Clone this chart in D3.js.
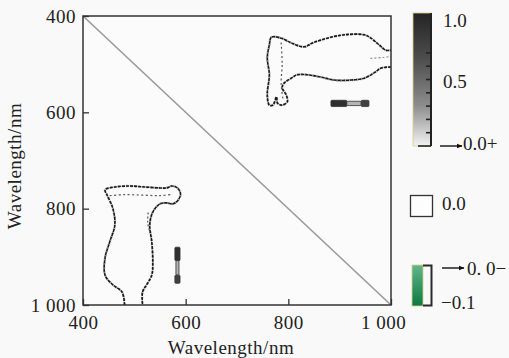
<!DOCTYPE html>
<html><head><meta charset="utf-8">
<script src="https://cdn.jsdelivr.net/npm/d3@7"></script>
<style>html,body{margin:0;padding:0;background:#f9f9f9;}svg{display:block;}</style>
</head><body>
<svg id="chart" width="509" height="358"></svg>
<script>
// ---- data (wavelength, nm) ----
const axisTicks = [400, 600, 800, 1000];
const axisTickLabels = ["400", "600", "800", "1 000"];
const diagonal = [[400, 400], [1000, 1000]];
// lower-left contour (x = wavelength 1, y = wavelength 2)
const contourLowerLeft = [[481,1000],[476,973],[458,958],[443,938],[443,902],[452,869],[462,834],[458,799],[447,772],[443,761],[462,755],[491,753],[520,755],[550,757],[563,757],[573,753],[584,757],[590,770],[584,784],[575,790],[563,788],[550,790],[536,807],[530,834],[534,869],[536,911],[534,938],[524,958],[516,973],[516,1000]];
const innerLowerLeft = [[452,773],[480,771],[520,772],[550,773],[575,770]];
const innerLowerLeft2 = [[527,808],[526,828],[530,848]];
// upper-right contour
const contourUpperRight = [[1000,506],[981,508],[967,518],[948,529],[922,533],[889,533],[864,527],[837,522],[817,522],[806,529],[792,539],[788,549],[796,564],[798,578],[788,585],[779,581],[777,568],[770,585],[763,585],[759,564],[763,522],[759,487],[763,460],[767,444],[786,446],[806,456],[831,464],[847,456],[876,446],[909,439],[948,439],[961,446],[977,460],[990,471],[1000,471]];
const innerUpperRight = [[786,455],[788,500],[786,540],[790,575]];
const innerUpperRight2 = [[960,488],[985,486],[1000,484]];
// small blobs: [x0, x1, y0, y1, intensity]
const blobLowerLeft = [[579,589,880,908,0.85],[581,587,908,938,0.4],[579,589,938,955,0.8]];
const blobUpperRight = [[883,914,575,588,0.85],[914,942,577,586,0.4],[942,957,575,588,0.8]];
// colour legend
const posTickValues = [0, 0.1, 0.2, 0.3, 0.4, 0.5, 0.6, 0.7];
const posLabels = ["1.0", "0.5", "0.0+"];
const posLabelValues = [1.0, 0.5, 0.0];
const zeroLabel = "0.0";
const negLabels = ["0. 0\u2212", "\u22120.1"];
const xTitle = "Wavelength/nm", yTitle = "Wavelength/nm";

const svg = d3.select("#chart");
const font = "'Liberation Serif','Times New Roman',serif";
svg.append("rect").attr("width", 509).attr("height", 358).attr("fill", "#f9f9f9");

const x = d3.scaleLinear().domain([400, 1000]).range([83, 391]);
const y = d3.scaleLinear().domain([400, 1000]).range([16, 305]);

svg.append("rect").attr("x", x(400)).attr("y", y(400)).attr("width", x(1000) - x(400)).attr("height", y(1000) - y(400))
  .attr("fill", "#fbfbfb");

const line = d3.line().x(d => x(d[0])).y(d => y(d[1]));
svg.append("path").datum(diagonal).attr("d", line).attr("stroke", "#9a9a9a").attr("stroke-width", 1.6).attr("fill", "none");

function contour(pts, w, col, dash) {
  svg.append("path").datum(pts).attr("d", line.curve(d3.curveCatmullRom))
    .attr("fill", "none").attr("stroke", col).attr("stroke-width", w)
    .attr("stroke-dasharray", dash);
}
contour(contourLowerLeft, 2.4, "#b0b0b0", "2,2");
contour(contourUpperRight, 2.4, "#b0b0b0", "2,2");
contour(contourLowerLeft, 1.6, "#1a1a1a", "3.2,0.9");
contour(contourUpperRight, 1.6, "#1a1a1a", "3.2,0.9");
contour(innerLowerLeft, 1.2, "#555", "2,2.5");
contour(innerLowerLeft2, 1.2, "#555", "2,2");
contour(innerUpperRight, 1.2, "#555", "2,2.5");
contour(innerUpperRight2, 1.1, "#888", "2,2");

function blob(arr) {
  svg.append("g").selectAll("rect").data(arr).join("rect")
    .attr("x", d => x(d[0])).attr("width", d => x(d[1]) - x(d[0]))
    .attr("y", d => y(d[2])).attr("height", d => y(d[3]) - y(d[2]))
    .attr("rx", 1)
    .attr("fill", d => d3.interpolateGreys(d[4]))
    .attr("stroke", "#333").attr("stroke-width", 0.8);
}
blob(blobLowerLeft);
blob(blobUpperRight);

// axes
const fmt = d => axisTickLabels[axisTicks.indexOf(d)];
const gy = svg.append("g").attr("transform", `translate(${x(400)},0)`)
  .call(d3.axisLeft(y).tickValues(axisTicks).tickFormat(fmt).tickSize(-6).tickPadding(7));
const gx = svg.append("g").attr("transform", `translate(0,${y(1000)})`)
  .call(d3.axisBottom(x).tickValues(axisTicks).tickFormat(fmt).tickSize(-6).tickPadding(11));
[gx, gy].forEach(g => {
  g.select(".domain").remove();
  g.selectAll(".tick line").attr("stroke", "#333").attr("stroke-width", 1.3);
  g.selectAll(".tick text").attr("font-family", font).attr("font-size", 19).attr("fill", "#222").attr("letter-spacing", 0.5);
});
gx.selectAll(".tick text").filter(d => d === 1000).attr("dx", -8);
svg.append("rect").attr("x", x(400)).attr("y", y(400)).attr("width", x(1000) - x(400)).attr("height", y(1000) - y(400))
  .attr("fill", "none").attr("stroke", "#333").attr("stroke-width", 1.5);

svg.append("text").attr("x", 231).attr("y", 354).attr("text-anchor", "middle")
  .attr("font-family", font).attr("font-size", 19).attr("letter-spacing", 0.5).attr("fill", "#222").text(xTitle);
svg.append("text").attr("transform", "translate(21,166) rotate(-90)").attr("text-anchor", "middle")
  .attr("font-family", font).attr("font-size", 19).attr("letter-spacing", 0.5).attr("fill", "#222").text(yTitle);

// positive colour bar
const defs = svg.append("defs");
const gg = defs.append("linearGradient").attr("id", "greyGrad").attr("x1", 0).attr("y1", 0).attr("x2", 0).attr("y2", 1);
[["0%", "#242424"], ["35%", "#4e4e4e"], ["70%", "#8e8e8e"], ["100%", "#f2f2f2"]]
  .forEach(s => gg.append("stop").attr("offset", s[0]).attr("stop-color", s[1]));
const cb = d3.scaleLinear().domain([0, 1]).range([146, 13]);
svg.append("rect").attr("x", 413).attr("y", cb(1)).attr("width", 18).attr("height", cb(0) - cb(1))
  .attr("fill", "url(#greyGrad)").attr("stroke", "#d9cf85").attr("stroke-width", 0.8);
svg.append("line").attr("x1", 431).attr("x2", 431).attr("y1", cb(1)).attr("y2", cb(0)).attr("stroke", "#222").attr("stroke-width", 2);
svg.append("g").selectAll("line").data(posTickValues).join("line")
  .attr("x1", d => d === 0 ? 418 : 426).attr("x2", 431).attr("y1", d => cb(d)).attr("y2", d => cb(d))
  .attr("stroke", "#222").attr("stroke-width", 1.6);
const posDy = [14, 8.5, 4];
svg.append("g").selectAll("text").data(posLabels).join("text")
  .attr("x", (d, i) => i === 2 ? 463 : 443).attr("y", (d, i) => cb(posLabelValues[i]) + posDy[i])
  .attr("font-family", font).attr("font-size", 19).attr("fill", "#222").text(d => d);

defs.append("marker").attr("id", "arr").attr("viewBox", "0 0 10 10").attr("refX", 9).attr("refY", 5)
  .attr("markerWidth", 6).attr("markerHeight", 6).attr("markerUnits", "userSpaceOnUse").attr("orient", "auto")
  .append("path").attr("d", "M0,1 L10,5 L0,9 Z").attr("fill", "#111");
function arrow(x1, x2, yy) {
  svg.append("line").attr("x1", x1).attr("x2", x2).attr("y1", yy).attr("y2", yy)
    .attr("stroke", "#111").attr("stroke-width", 1.4).attr("marker-end", "url(#arr)");
}
arrow(440, 462, 146);

// zero box
svg.append("rect").attr("x", 410.5).attr("y", 195.5).attr("width", 22).attr("height", 21)
  .attr("fill", "#fdfdfd").attr("stroke", "#333").attr("stroke-width", 1.3);
svg.append("text").attr("x", 442).attr("y", 210).attr("font-family", font).attr("font-size", 19).attr("fill", "#222").text(zeroLabel);

// negative colour bar
const ng = defs.append("linearGradient").attr("id", "greenGrad").attr("x1", 0).attr("y1", 0).attr("x2", 0).attr("y2", 1);
ng.append("stop").attr("offset", "0%").attr("stop-color", "#63b58c");
ng.append("stop").attr("offset", "100%").attr("stop-color", "#0a7a40");
svg.append("rect").attr("x", 412).attr("y", 265).attr("width", 11).attr("height", 41)
  .attr("fill", "url(#greenGrad)").attr("stroke", "#d9cf85").attr("stroke-width", 0.8);
svg.append("path").attr("d", "M423,265.5 H431.5 V305.5 H423").attr("fill", "none").attr("stroke", "#2a2a2a").attr("stroke-width", 2);
arrow(442, 464, 268);
svg.append("text").attr("x", 467).attr("y", 275).attr("font-family", font).attr("font-size", 19).attr("fill", "#222").text(negLabels[0]);
svg.append("text").attr("x", 441).attr("y", 309).attr("font-family", font).attr("font-size", 19).attr("fill", "#222").text(negLabels[1]);
</script>
</body></html>
